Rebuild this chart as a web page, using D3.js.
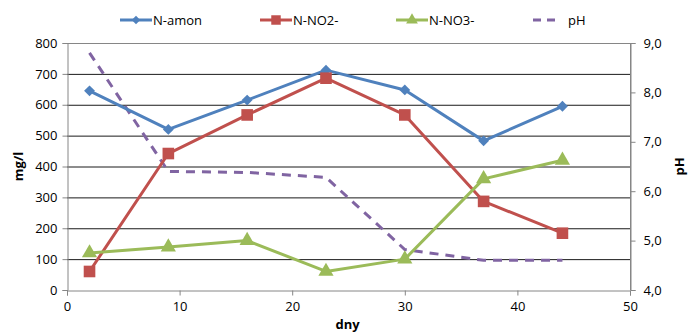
<!DOCTYPE html>
<html>
<head>
<meta charset="utf-8">
<script src="https://cdn.jsdelivr.net/npm/d3@7"></script>
<style>
  html, body { margin: 0; padding: 0; background: #fff; }
  svg text { font-family: "Open Sans", "Noto Sans", sans-serif; fill: #000; }
</style>
</head>
<body>
<svg id="chart" width="689" height="336"></svg>
<script>
// Sampling days
const days = [2, 9, 16, 23, 30, 37, 44];
// Nitrogen forms, mg/l
const nAmon = [645, 520, 615, 712, 648, 483, 595];
const nNO2 = [60, 442, 567, 686, 567, 287, 184];
const nNO3 = [120, 139, 160, 60, 100, 360, 420];
// pH on the secondary axis
const pH = [8.8, 6.4, 6.38, 6.28, 4.82, 4.6, 4.6];

const xTicks = [0, 10, 20, 30, 40, 50];
const yTicks = [0, 100, 200, 300, 400, 500, 600, 700, 800];
const y2Ticks = [4, 5, 6, 7, 8, 9];

const svg = d3.select("#chart");
const plotL = 67, plotR = 630, plotT = 43, plotB = 290;

const x = d3.scaleLinear().domain([0, 50]).range([plotL, plotR]);
const y = d3.scaleLinear().domain([0, 800]).range([plotB, plotT]);
const y2 = d3.scaleLinear().domain([4, 9]).range([plotB, plotT]);

// Horizontal gridlines
svg.append("g").selectAll("line").data(yTicks.filter(d => d > 0)).join("line")
  .attr("x1", plotL).attr("x2", plotR)
  .attr("y1", d => y(d) + 0.5).attr("y2", d => y(d) + 0.5)
  .attr("stroke", d => d === 800 ? "#868686" : "#1a1a1a").attr("stroke-width", 1);

// Plot area right border
svg.append("line").attr("x1", plotR + 0.5).attr("x2", plotR + 0.5)
  .attr("y1", plotT).attr("y2", plotB).attr("stroke", "#868686");

const fmtComma = d => d3.format(".1f")(d).replace(".", ",");

// Axes
const gx = svg.append("g").attr("transform", `translate(0,${plotB + 0.5})`)
  .call(d3.axisBottom(x).tickValues(xTicks).tickSize(5).tickPadding(6));
const gy = svg.append("g").attr("transform", `translate(${plotL + 0.5},0)`)
  .call(d3.axisLeft(y).tickValues(yTicks).tickSize(5).tickPadding(5));
const gy2 = svg.append("g").attr("transform", `translate(${plotR + 0.5},0)`)
  .call(d3.axisRight(y2).tickValues(y2Ticks).tickFormat(fmtComma).tickSize(5).tickPadding(8));

[gx, gy, gy2].forEach(g => {
  g.selectAll("path.domain").attr("stroke", "#868686");
  g.selectAll(".tick line").attr("stroke", "#868686");
  g.selectAll("text").attr("font-size", 13).attr("font-family", "'Open Sans', sans-serif").attr("fill", "#000");
});

// Axis titles
svg.append("text").attr("x", (plotL + plotR) / 2 - 1).attr("y", 329)
  .attr("text-anchor", "middle").attr("font-size", 13).attr("font-weight", "bold").text("dny");
svg.append("text").attr("transform", `translate(23,${(plotT + plotB) / 2}) rotate(-90)`)
  .attr("text-anchor", "middle").attr("font-size", 13).attr("font-weight", "bold").text("mg/l");
svg.append("text").attr("transform", `translate(684,${(plotT + plotB) / 2}) rotate(-90)`)
  .attr("text-anchor", "middle").attr("font-size", 13).attr("font-weight", "bold").text("pH");

const series = [
  { name: "N-amon", values: nAmon, color: "#4F81BD", marker: "diamond" },
  { name: "N-NO2-", values: nNO2, color: "#C0504D", marker: "square" },
  { name: "N-NO3-", values: nNO3, color: "#9BBB59", marker: "triangle" }
];

const symbolFor = m => m === "diamond" ? d3.symbol().type(d3.symbolDiamond2).size(75)
  : m === "square" ? d3.symbol().type(d3.symbolSquare).size(135)
  : d3.symbol().type(d3.symbolTriangle).size(100);

// pH dashed line
svg.append("path")
  .datum(days.map((d, i) => [d, pH[i]]))
  .attr("fill", "none").attr("stroke", "#8064A2").attr("stroke-width", 3)
  .attr("stroke-dasharray", "9,7")
  .attr("d", d3.line().x(d => x(d[0])).y(d => y2(d[1])));

series.forEach(s => {
  const g = svg.append("g");
  g.append("path")
    .datum(days.map((d, i) => [d, s.values[i]]))
    .attr("fill", "none").attr("stroke", s.color).attr("stroke-width", 3)
    .attr("stroke-linejoin", "round")
    .attr("d", d3.line().x(d => x(d[0])).y(d => y(d[1])));
  g.selectAll("path.mk").data(days.map((d, i) => [d, s.values[i]])).join("path")
    .attr("class", "mk")
    .attr("transform", d => `translate(${x(d[0])},${y(d[1])})`)
    .attr("d", symbolFor(s.marker)())
    .attr("fill", s.color);
});

// Legend
const legend = [
  { name: "N-amon", color: "#4F81BD", marker: "diamond", x0: 120 },
  { name: "N-NO2-", color: "#C0504D", marker: "square", x0: 260 },
  { name: "N-NO3-", color: "#9BBB59", marker: "triangle", x0: 396 },
  { name: "pH", color: "#8064A2", marker: null, x0: 533 }
];
const ly = 20;
legend.forEach(l => {
  const g = svg.append("g");
  if (l.marker) {
    g.append("line").attr("x1", l.x0).attr("x2", l.x0 + 32).attr("y1", ly).attr("y2", ly)
      .attr("stroke", l.color).attr("stroke-width", 3);
    const sz = l.marker === "diamond" ? 45 : l.marker === "square" ? 90 : 60;
    const t = l.marker === "diamond" ? d3.symbolDiamond2 : l.marker === "square" ? d3.symbolSquare : d3.symbolTriangle;
    g.append("path").attr("transform", `translate(${l.x0 + 16},${ly})`)
      .attr("d", d3.symbol().type(t).size(sz)()).attr("fill", l.color);
    g.append("text").attr("x", l.x0 + 33).attr("y", ly + 5).attr("font-size", 13).text(l.name);
  } else {
    g.append("line").attr("x1", l.x0).attr("x2", l.x0 + 25).attr("y1", ly).attr("y2", ly)
      .attr("stroke", l.color).attr("stroke-width", 3).attr("stroke-dasharray", "8,6");
    g.append("text").attr("x", l.x0 + 35).attr("y", ly + 5).attr("font-size", 13).text(l.name);
  }
});
</script>
</body>
</html>
